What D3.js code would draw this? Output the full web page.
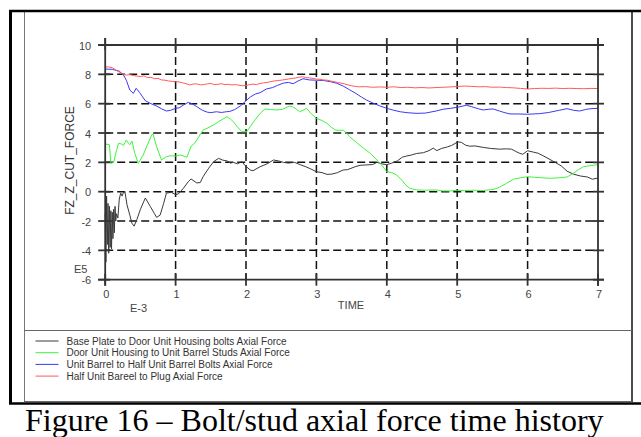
<!DOCTYPE html>
<html><head><meta charset="utf-8">
<script src="https://cdn.jsdelivr.net/npm/d3@7"></script>
<style>
html,body{margin:0;padding:0;background:#fff;}
svg{display:block;}
</style></head>
<body>
<svg id="chart" width="641" height="437"></svg>
<script>
// ---------- data (time in E-3 s, force in E5) ----------
const xTicks = [0,1,2,3,4,5,6,7];
const yTicks = [-6,-4,-2,0,2,4,6,8,10];
const seriesNames = [
  "Base Plate to Door Unit Housing bolts Axial Force",
  "Door Unit Housing to Unit Barrel Studs Axial Force",
  "Unit Barrel to Half Unit Barrel Bolts Axial Force",
  "Half Unit Bareel to Plug Axial Force"
];
const seriesColors = ["#3a3a3a","#3cf53c","#3a3af5","#ff5a5a"];

const blackSeries = [[0,-1.5],[0.01,-4.8],[0.02,-0.3],[0.03,-3.6],[0.04,-0.8],[0.05,-4.2],[0.06,-1.0],[0.07,-3.8],[0.08,-1.3],[0.09,-3.9],[0.1,-1.4],[0.11,-3.2],[0.12,-1.2],[0.13,-2.8],[0.14,-1.0],[0.15,-2.0],[0.16,-1.5],[0.18,-1.8],[0.2,-0.5],[0.22,-0.1],[0.24,-0.3],[0.26,-0.05],[0.28,0.0],[0.31,-0.9],[0.35,-1.6],[0.38,-2.15],[0.41,-2.35],[0.45,-1.9],[0.5,-1.2],[0.57,-0.43],[0.64,-1.0],[0.7,-1.5],[0.73,-1.75],[0.78,-1.6],[0.83,-0.8],[0.87,-0.09],[0.94,-0.05],[1.0,-0.2],[1.04,-0.15],[1.11,0.23],[1.18,0.68],[1.22,0.87],[1.3,0.6],[1.35,0.62],[1.39,1.02],[1.47,1.6],[1.54,2.05],[1.61,2.27],[1.67,2.15],[1.73,2.1],[1.78,1.95],[1.82,2.0],[1.88,1.9],[1.94,2.05],[1.99,1.77],[2.06,1.48],[2.1,1.43],[2.2,1.7],[2.3,1.9],[2.39,2.16],[2.46,2.1],[2.53,2.0],[2.6,1.95],[2.69,2.0],[2.77,1.84],[2.85,1.7],[2.92,1.55],[3.0,1.36],[3.08,1.3],[3.15,1.18],[3.22,1.2],[3.3,1.3],[3.38,1.48],[3.44,1.5],[3.55,1.7],[3.62,1.8],[3.7,1.82],[3.8,1.85],[3.86,2.0],[3.93,1.9],[4.0,1.84],[4.07,1.95],[4.15,2.1],[4.22,2.35],[4.28,2.43],[4.35,2.5],[4.42,2.6],[4.52,2.66],[4.6,2.8],[4.66,2.97],[4.71,2.8],[4.78,2.95],[4.86,3.05],[4.92,3.15],[5.01,3.4],[5.06,3.36],[5.12,3.17],[5.18,3.1],[5.25,3.12],[5.37,3.02],[5.47,2.95],[5.6,2.9],[5.7,2.92],[5.77,2.9],[5.83,2.75],[5.88,2.63],[5.93,2.55],[6.0,2.79],[6.08,2.7],[6.15,2.62],[6.22,2.45],[6.29,2.27],[6.39,2.0],[6.48,1.75],[6.56,1.4],[6.65,1.2],[6.75,1.07],[6.85,1.0],[6.92,0.85],[7.0,0.93]];

const greenSeries = [[0,3.25],[0.04,3.22],[0.06,3.2],[0.08,1.93],[0.12,2.0],[0.16,2.8],[0.19,3.3],[0.23,3.25],[0.26,3.15],[0.3,3.52],[0.33,3.3],[0.35,3.2],[0.38,3.45],[0.42,2.62],[0.47,1.93],[0.54,2.5],[0.6,3.2],[0.66,3.86],[0.68,3.93],[0.73,3.07],[0.8,2.16],[0.84,2.3],[0.87,2.39],[0.93,2.45],[1.0,2.43],[1.07,2.5],[1.12,2.42],[1.16,2.34],[1.22,3.1],[1.27,3.3],[1.3,3.52],[1.35,3.9],[1.39,4.2],[1.46,4.35],[1.54,4.55],[1.62,4.8],[1.73,5.11],[1.78,4.95],[1.82,4.77],[1.88,4.4],[1.94,4.09],[2.01,4.09],[2.06,4.43],[2.13,4.9],[2.2,5.34],[2.27,5.64],[2.35,5.6],[2.44,5.57],[2.52,5.62],[2.62,5.84],[2.68,5.75],[2.72,5.61],[2.76,5.45],[2.81,5.55],[2.86,5.68],[2.93,5.3],[3.0,5.0],[3.08,4.85],[3.15,4.66],[3.21,4.4],[3.27,4.2],[3.33,4.18],[3.38,4.2],[3.43,4.0],[3.47,3.75],[3.57,3.35],[3.67,2.96],[3.77,2.6],[3.86,2.16],[3.93,1.8],[4.0,1.36],[4.07,1.3],[4.14,1.14],[4.21,0.8],[4.27,0.45],[4.33,0.23],[4.42,0.12],[4.55,0.1],[4.7,0.12],[4.8,0.05],[4.9,0.05],[5.0,0.1],[5.1,0.08],[5.23,0.1],[5.35,0.08],[5.51,0.15],[5.6,0.3],[5.7,0.57],[5.8,0.85],[5.9,0.95],[6.0,1.02],[6.1,0.98],[6.2,0.95],[6.32,0.91],[6.45,0.95],[6.56,1.0],[6.65,1.25],[6.72,1.5],[6.79,1.7],[6.9,1.78],[7.0,1.85]];

const blueSeries = [[0,8.36],[0.1,8.34],[0.2,8.22],[0.26,7.95],[0.3,7.6],[0.35,6.93],[0.4,6.7],[0.44,7.05],[0.49,6.75],[0.57,6.2],[0.65,6.0],[0.73,5.84],[0.8,5.65],[0.87,5.5],[0.93,5.55],[1.0,5.68],[1.05,5.72],[1.11,5.9],[1.18,6.09],[1.24,5.98],[1.3,5.8],[1.38,5.55],[1.45,5.42],[1.5,5.39],[1.58,5.45],[1.65,5.4],[1.72,5.45],[1.77,5.47],[1.84,5.6],[1.92,5.84],[2.0,6.2],[2.06,6.45],[2.13,6.65],[2.2,6.75],[2.29,7.0],[2.38,7.1],[2.45,7.25],[2.53,7.4],[2.6,7.45],[2.67,7.36],[2.74,7.55],[2.81,7.7],[2.9,7.62],[3.0,7.6],[3.1,7.58],[3.2,7.5],[3.29,7.39],[3.38,7.2],[3.47,6.95],[3.56,6.7],[3.64,6.45],[3.71,6.25],[3.8,6.05],[3.9,5.85],[4.0,5.68],[4.1,5.55],[4.19,5.45],[4.3,5.38],[4.43,5.34],[4.55,5.36],[4.7,5.5],[4.8,5.62],[4.9,5.68],[5.0,5.75],[5.13,5.89],[5.2,5.8],[5.3,5.65],[5.37,5.57],[5.45,5.62],[5.51,5.64],[5.6,5.5],[5.68,5.38],[5.75,5.3],[5.85,5.3],[6.0,5.28],[6.17,5.32],[6.3,5.4],[6.45,5.55],[6.56,5.66],[6.65,5.55],[6.74,5.5],[6.82,5.6],[6.9,5.66],[7.0,5.68]];

const redSeries = [[0,8.52],[0.05,8.5],[0.1,8.45],[0.15,8.3],[0.2,8.15],[0.25,8.02],[0.3,7.95],[0.35,7.98],[0.4,7.92],[0.45,7.88],[0.5,7.85],[0.55,7.9],[0.6,7.78],[0.65,7.8],[0.7,7.7],[0.75,7.72],[0.8,7.62],[0.85,7.6],[0.9,7.55],[0.95,7.52],[1.0,7.5],[1.05,7.48],[1.1,7.42],[1.15,7.36],[1.2,7.28],[1.25,7.34],[1.3,7.35],[1.35,7.28],[1.4,7.3],[1.45,7.35],[1.5,7.38],[1.55,7.3],[1.6,7.32],[1.65,7.36],[1.7,7.3],[1.75,7.32],[1.8,7.28],[1.85,7.3],[1.9,7.26],[1.95,7.22],[2.0,7.24],[2.05,7.3],[2.1,7.33],[2.15,7.3],[2.2,7.38],[2.25,7.42],[2.3,7.45],[2.35,7.5],[2.4,7.55],[2.45,7.58],[2.5,7.6],[2.55,7.64],[2.6,7.68],[2.65,7.72],[2.7,7.75],[2.75,7.8],[2.8,7.84],[2.85,7.78],[2.9,7.76],[2.95,7.72],[3.0,7.68],[3.05,7.66],[3.1,7.62],[3.15,7.6],[3.2,7.55],[3.25,7.5],[3.3,7.45],[3.35,7.4],[3.4,7.35],[3.45,7.28],[3.5,7.22],[3.55,7.18],[3.6,7.15],[3.7,7.16],[3.8,7.12],[3.9,7.14],[4.0,7.12],[4.1,7.15],[4.2,7.1],[4.3,7.12],[4.4,7.08],[4.5,7.1],[4.6,7.07],[4.7,7.1],[4.8,7.12],[4.9,7.14],[5.0,7.17],[5.1,7.2],[5.2,7.18],[5.3,7.15],[5.4,7.16],[5.5,7.12],[5.6,7.13],[5.7,7.1],[5.8,7.08],[5.9,7.04],[6.0,7.0],[6.1,7.03],[6.2,7.05],[6.3,7.04],[6.4,7.06],[6.5,7.03],[6.6,7.05],[6.7,7.03],[6.8,7.02],[6.9,7.04],[7.0,7.03]];

const allSeries = [blackSeries, greenSeries, blueSeries, redSeries];

// ---------- drawing ----------
const svg = d3.select("#chart");
const sans = "'Liberation Sans', Arial, sans-serif";

// outer frame
const frame = svg.append("g");
frame.append("line").attr("x1",24.5).attr("x2",24.5).attr("y1",12).attr("y2",402).attr("stroke","#777").attr("stroke-width",1);
frame.append("line").attr("x1",632).attr("x2",632).attr("y1",12).attr("y2",402).attr("stroke","#111").attr("stroke-width",1.5);
frame.append("line").attr("x1",24).attr("x2",632).attr("y1",330.5).attr("y2",330.5).attr("stroke","#666").attr("stroke-width",1);
frame.append("line").attr("x1",24).attr("x2",632).attr("y1",401.5).attr("y2",401.5).attr("stroke","#666").attr("stroke-width",1);
frame.append("line").attr("x1",10.5).attr("x2",10.5).attr("y1",10).attr("y2",404).attr("stroke","#000").attr("stroke-width",3);
frame.append("line").attr("x1",9).attr("x2",641).attr("y1",11).attr("y2",11).attr("stroke","#000").attr("stroke-width",2.5);
frame.append("line").attr("x1",9).attr("x2",641).attr("y1",403.5).attr("y2",403.5).attr("stroke","#000").attr("stroke-width",2.5);

const x = d3.scaleLinear().domain([0,7]).range([105.2,598]);
const y = d3.scaleLinear().domain([-6,10]).range([279.7,45]);

const g = svg.append("g");

// dashed grid
g.selectAll(".hg").data(yTicks.filter(v=>v>-6 && v<10)).join("line")
  .attr("x1",x(0)).attr("x2",x(7)).attr("y1",d=>y(d)).attr("y2",d=>y(d))
  .attr("stroke","#111").attr("stroke-width",1.5).attr("stroke-dasharray","8,4");
g.selectAll(".vg").data(xTicks.filter(v=>v>0 && v<7)).join("line")
  .attr("x1",d=>x(d)).attr("x2",d=>x(d)).attr("y1",y(10)).attr("y2",y(-6))
  .attr("stroke","#111").attr("stroke-width",1.5).attr("stroke-dasharray","8,4");

// data lines
const line = d3.line().x(d=>x(d[0])).y(d=>y(d[1]));
g.selectAll(".series").data(allSeries).join("path")
  .attr("d",line).attr("fill","none")
  .attr("stroke",(d,i)=>seriesColors[i]).attr("stroke-width",1);

// frame box
const ax = svg.append("g").attr("stroke","#333").attr("stroke-width",1.8);
ax.append("line").attr("x1",x(0)-7).attr("x2",x(7)+6).attr("y1",y(10)).attr("y2",y(10));
ax.append("line").attr("x1",x(0)-7).attr("x2",x(7)+6).attr("y1",y(-6)).attr("y2",y(-6));
ax.append("line").attr("x1",x(0)).attr("x2",x(0)).attr("y1",y(10)-7).attr("y2",y(-6)+6);
ax.append("line").attr("x1",x(7)).attr("x2",x(7)).attr("y1",y(10)-7).attr("y2",y(-6)+6);
// ticks crossing axes
ax.selectAll(".xtb").data(xTicks).join("line")
  .attr("x1",d=>x(d)).attr("x2",d=>x(d)).attr("y1",y(-6)-6).attr("y2",y(-6)+6);
ax.selectAll(".xtt").data(xTicks).join("line")
  .attr("x1",d=>x(d)).attr("x2",d=>x(d)).attr("y1",y(10)-7).attr("y2",y(10)+5);
ax.selectAll(".ytl").data(yTicks).join("line")
  .attr("x1",x(0)-7).attr("x2",x(0)+5).attr("y1",d=>y(d)).attr("y2",d=>y(d));
ax.selectAll(".ytr").data(yTicks).join("line")
  .attr("x1",x(7)-5).attr("x2",x(7)+6).attr("y1",d=>y(d)).attr("y2",d=>y(d));

// tick labels via d3 axes (no tick lines/domain), plain hyphen minus
const fmt = d => String(d);
const yAxis = d3.axisLeft(y).tickValues(yTicks).tickSize(0).tickPadding(0).tickFormat(fmt);
const yg = svg.append("g").attr("transform",`translate(${x(0)-14},0.5)`).call(yAxis);
const xAxis = d3.axisBottom(x).tickValues(xTicks).tickSize(0).tickPadding(0).tickFormat(fmt);
const xg = svg.append("g").attr("transform",`translate(0.5,${y(-6)+10})`).call(xAxis);
[yg,xg].forEach(a=>{
  a.select(".domain").remove();
  a.selectAll("text").attr("font-family",sans).attr("font-size",11).attr("fill","#444");
});

// axis labels
svg.append("text").attr("x",74).attr("y",273).text("E5")
  .attr("font-family",sans).attr("font-size",11).attr("fill","#444");
svg.append("text").attr("x",130).attr("y",312).text("E-3")
  .attr("font-family",sans).attr("font-size",11).attr("fill","#444");
svg.append("text").attr("x",351).attr("y",309).attr("text-anchor","middle").text("TIME")
  .attr("font-family",sans).attr("font-size",11).attr("fill","#444");
svg.append("text").attr("transform","translate(74,160.5) rotate(-90)").attr("text-anchor","middle")
  .text("FZ_Z_CUT_FORCE").attr("font-family",sans).attr("font-size",12).attr("fill","#333");

// legend
const lg = svg.append("g").selectAll("g").data(seriesNames).join("g")
  .attr("transform",(d,i)=>`translate(0,${341 + i*11.7})`);
lg.append("line").attr("x1",35.5).attr("x2",58.5).attr("y1",0).attr("y2",0)
  .attr("stroke",(d,i)=>seriesColors[i]).attr("stroke-width",1);
lg.append("text").attr("x",66.5).attr("y",3.6).text(d=>d)
  .attr("font-family",sans).attr("font-size",10).attr("fill","#333");

// caption
svg.append("text").attr("x",25).attr("y",431).text("Figure 16 \u2013 Bolt/stud axial force time history")
  .attr("font-family","'Liberation Serif','Times New Roman',serif").attr("font-size",32).attr("fill","#000");
</script>
</body></html>
